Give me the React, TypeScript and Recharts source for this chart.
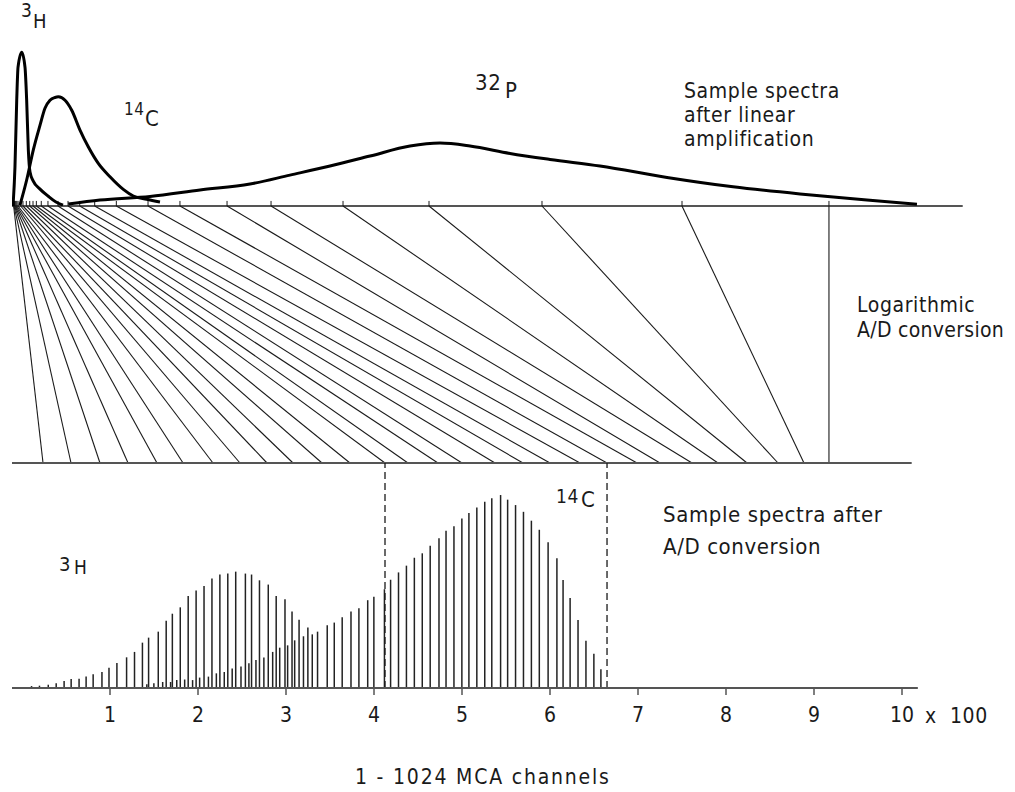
import React from 'react';
import { ComposedChart, LineChart, Line, Bar, XAxis, YAxis, ReferenceLine } from 'recharts';

// x is pulse height / MCA channel in hundreds, y is relative counts

// sample spectra after linear amplification
const H3_CURVE: [number, number][] = [
  [-0.102, 0], [-0.08, 25.3], [-0.06, 68.8], [-0.045, 90.3], [-0.003, 100], [0.034, 90.3],
  [0.053, 68.8], [0.072, 36.4], [0.091, 22.1], [0.128, 16.2], [0.205, 11.0], [0.295, 6.5],
  [0.386, 2.6], [0.466, 0.6],
];
const C14_CURVE: [number, number][] = [
  [-0.023, 0.6], [0.053, 16.9], [0.128, 36.4], [0.205, 52.6], [0.261, 63.6], [0.318, 68.8],
  [0.375, 70.6], [0.413, 71.0], [0.489, 68.8], [0.565, 62.3], [0.659, 49.4], [0.753, 38.5],
  [0.867, 27.7], [1.0, 19.0], [1.151, 10.8], [1.265, 6.5], [1.417, 4.4], [1.568, 2.6],
];
const P32_CURVE: [number, number][] = [
  [0.526, 1.3], [0.886, 3.9], [1.455, 6.2], [2.023, 10.4], [2.591, 14.3], [3.045, 20.1],
  [3.5, 26.0], [3.955, 32.5], [4.409, 39.0], [4.75, 40.9], [5.091, 39.0], [5.545, 34.2],
  [6.0, 30.3], [6.568, 26.0], [7.33, 18.6], [8.08, 12.5], [8.841, 7.8], [9.602, 3.9], [10.17, 1.1],
];

// logarithmic A/D conversion: pulse height (top) -> channel (bottom)
const FAN_TOP = [
  -0.095, -0.091, -0.085, -0.078, -0.07, -0.059, -0.045, -0.015, 0.011, 0.049,
  0.088, 0.125, 0.163, 0.219, 0.295, 0.409, 0.523, 0.656, 0.826, 1.072,
  1.432, 1.795, 2.33, 2.83, 3.648, 4.625, 5.909, 7.5, 9.17,
];
const FAN_BOTTOM = [
  0.239, 0.557, 0.886, 1.205, 1.534, 1.83, 2.17, 2.477, 2.784, 3.08,
  3.409, 3.727, 4.125, 4.386, 4.727, 5.0, 5.375, 5.693, 6.0, 6.341,
  6.648, 6.989, 7.25, 7.614, 7.909, 8.239, 8.591, 8.886, 9.17,
];

// sample spectra after A/D conversion
const H3_STICK_X = [
  -0.08, 0.02, 0.11, 0.2, 0.3, 0.39, 0.48, 0.56, 0.65, 0.73, 0.81, 0.91, 0.99, 1.08, 1.19,
  1.28, 1.37, 1.44, 1.55, 1.64, 1.71, 1.8, 1.89, 1.98, 2.07, 2.16, 2.25, 2.34, 2.43, 2.54,
  2.61, 2.7, 2.8, 2.89, 2.99, 3.07, 3.15, 3.25,
];
const H3_STICK_Y = [
  0.5, 0.5, 1.0, 1.2, 1.7, 2.4, 3.6, 4.7, 4.8, 5.9, 7.1, 8.3, 10.5, 13.0, 15.9,
  18.7, 23.5, 26.1, 29.2, 34.9, 38.5, 41.8, 47.7, 50.5, 52.8, 56.8, 58.8, 59.3, 60.3, 59.3,
  58.8, 55.8, 53.6, 47.7, 46.0, 39.6, 35.4, 31.3,
];
const C14_STICK_X = [
  1.42, 1.5, 1.6, 1.69, 1.76, 1.85, 1.94, 2.02, 2.12, 2.21, 2.3, 2.39, 2.49, 2.58, 2.66,
  2.75, 2.85, 2.93, 3.02, 3.1, 3.2, 3.3, 3.36, 3.47, 3.55, 3.64, 3.74, 3.83, 3.93, 4.0,
  4.12, 4.19, 4.28, 4.37, 4.46, 4.55, 4.64, 4.74, 4.82, 4.91, 5.0, 5.08, 5.17, 5.26, 5.34,
  5.44, 5.52, 5.61, 5.7, 5.79, 5.88, 5.98, 6.08, 6.15, 6.23, 6.32, 6.41, 6.5, 6.58,
];
const C14_STICK_Y = [
  1.9, 2.4, 3.1, 3.1, 4.1, 4.4, 4.1, 5.4, 5.9, 7.6, 8.3, 10.1, 11.1, 12.8, 14.5,
  15.8, 18.7, 20.9, 22.1, 24.7, 26.8, 27.8, 29.2, 32.5, 33.9, 36.6, 39.6, 41.3, 45.5, 47.3,
  51.2, 56.1, 59.9, 63.4, 67.5, 69.8, 73.7, 77.6, 81.5, 83.8, 87.9, 90.7, 93.6, 96.5, 98.3,
  100, 97.6, 94.8, 91.3, 86.7, 82.0, 75.5, 67.2, 56.0, 46.6, 35.2, 24.5, 17.8, 9.7,
];
const WINDOW_EDGES = [4.125, 6.648];
const CHANNEL_TICKS = [1, 2, 3, 4, 5, 6, 7, 8, 9, 10];

// layout
const AXIS_LEFT = 12;
const PX_AT_ZERO = 22;
const PX_PER_UNIT = 88;
const CHART_W = 1012;
const X_DOMAIN: [number, number] = [
  (AXIS_LEFT - PX_AT_ZERO) / PX_PER_UNIT,
  (CHART_W - PX_AT_ZERO) / PX_PER_UNIT,
];
const TOP_BASE_END = 10.69;
const MID_BASE_END = 10.11;
const BOTTOM_BASE_END = 10.18;

const FONT = "'DejaVu Sans Condensed', 'DejaVu Sans', sans-serif";
const INK = '#1a1a1a';
const AXIS = '#555';

const toPoints = (pts: [number, number][]) => pts.map(([x, y]) => ({ x, y }));

const stickRows = [
  ...H3_STICK_X.map((x, i) => ({ x, h3: H3_STICK_Y[i], c14: 0 })),
  ...C14_STICK_X.map((x, i) => ({ x, h3: 0, c14: C14_STICK_Y[i] })),
].sort((a, b) => a.x - b.x);

function Note({ x, base, size = 22, spacing = 0.6, children }: {
  x: number; base: number; size?: number; spacing?: number; children: React.ReactNode;
}) {
  return (
    <div
      style={{
        position: 'absolute',
        left: x,
        top: base - 0.846 * size,
        fontSize: size,
        lineHeight: `${size}px`,
        fontFamily: FONT,
        fontWeight: 200,
        letterSpacing: spacing,
        color: INK,
        whiteSpace: 'pre',
      }}
    >
      {children}
    </div>
  );
}

const leftAxis = (domain: [number, number]) => (
  <YAxis
    type="number"
    width={0}
    domain={domain}
    allowDataOverflow
    tick={false}
    tickLine={false}
    axisLine={{ stroke: AXIS, strokeWidth: 2 }}
  />
);

export default function App() {
  return (
    <div style={{ position: 'absolute', left: 0, top: 0, width: 1015, height: 792, background: '#fff', overflow: 'hidden' }}>
      {/* linear amplification */}
      <div style={{ position: 'absolute', left: 0, top: 0 }}>
        <LineChart width={CHART_W} height={210} margin={{ top: 0, right: 0, bottom: 4, left: AXIS_LEFT }}>
          <XAxis type="number" dataKey="x" domain={X_DOMAIN} allowDataOverflow hide />
          {leftAxis([0, 134])}
          <ReferenceLine segment={[{ x: X_DOMAIN[0], y: 0 }, { x: TOP_BASE_END, y: 0 }]} stroke={AXIS} strokeWidth={2} />
          {FAN_TOP.map((t, i) => (
            <ReferenceLine key={i} segment={[{ x: t, y: 0 }, { x: t, y: 3.3 }]} stroke={INK} strokeWidth={1} />
          ))}
          {[H3_CURVE, C14_CURVE, P32_CURVE].map((c, i) => (
            <Line
              key={i}
              data={toPoints(c)}
              dataKey="y"
              type="monotone"
              stroke="#000"
              strokeWidth={3}
              dot={false}
              isAnimationActive={false}
            />
          ))}
        </LineChart>
      </div>

      {/* logarithmic conversion */}
      <div style={{ position: 'absolute', left: 0, top: 202 }}>
        <LineChart width={CHART_W} height={265} margin={{ top: 4, right: 0, bottom: 4, left: AXIS_LEFT }}>
          <XAxis type="number" dataKey="x" domain={X_DOMAIN} allowDataOverflow hide />
          {leftAxis([0, 1])}
          {FAN_TOP.map((t, i) => (
            <ReferenceLine key={i} segment={[{ x: t, y: 1 }, { x: FAN_BOTTOM[i], y: 0 }]} stroke={INK} strokeWidth={1.1} />
          ))}
          <ReferenceLine segment={[{ x: X_DOMAIN[0], y: 0 }, { x: MID_BASE_END, y: 0 }]} stroke={AXIS} strokeWidth={2} />
        </LineChart>
      </div>

      {/* channel spectra */}
      <div style={{ position: 'absolute', left: 0, top: 459 }}>
        <ComposedChart width={CHART_W} height={289} data={stickRows} margin={{ top: 4, right: 0, bottom: 0, left: AXIS_LEFT }}>
          <XAxis
            type="number"
            dataKey="x"
            domain={X_DOMAIN}
            allowDataOverflow
            ticks={CHANNEL_TICKS}
            interval={0}
            height={60}
            axisLine={false}
            tickLine={{ stroke: AXIS, strokeWidth: 1.5 }}
            tickSize={7}
            tickMargin={12}
            tick={{ fill: INK, fontSize: 21, fontFamily: FONT, fontWeight: 200 }}
          />
          {leftAxis([0, 116.6])}
          <Bar dataKey="h3" stackId="s" barSize={1.5} fill="#222" isAnimationActive={false} />
          <Bar dataKey="c14" stackId="s" barSize={1.5} fill="#222" isAnimationActive={false} />
          {WINDOW_EDGES.map((e) => (
            <ReferenceLine key={e} x={e} stroke={INK} strokeWidth={1.3} strokeDasharray="7 4" />
          ))}
          <ReferenceLine segment={[{ x: X_DOMAIN[0], y: 0 }, { x: BOTTOM_BASE_END, y: 0 }]} stroke={AXIS} strokeWidth={2} />
        </ComposedChart>
      </div>

      <Note x={21} base={17} size={19}>3</Note>
      <Note x={33} base={28} size={20}>H</Note>
      <Note x={124} base={115} size={17}>14</Note>
      <Note x={145} base={127}>C</Note>
      <Note x={475} base={91}>32</Note>
      <Note x={505} base={99}>P</Note>
      <Note x={684} base={99} size={21}>Sample spectra</Note>
      <Note x={684} base={123} size={21}>after linear</Note>
      <Note x={684} base={147} size={21}>amplification</Note>
      <Note x={857} base={313} size={21}>Logarithmic</Note>
      <Note x={857} base={338} size={21} spacing={0.3}>A/D conversion</Note>
      <Note x={556} base={503} size={19}>14</Note>
      <Note x={581} base={508}>C</Note>
      <Note x={59} base={571} size={20}>3</Note>
      <Note x={74} base={574} size={19}>H</Note>
      <Note x={663} base={523}>Sample spectra after</Note>
      <Note x={663} base={555}>A/D conversion</Note>
      <Note x={925} base={724} size={21}>x  100</Note>
      <Note x={355} base={785} size={21} spacing={1.8}>1 - 1024 MCA channels</Note>
    </div>
  );
}
